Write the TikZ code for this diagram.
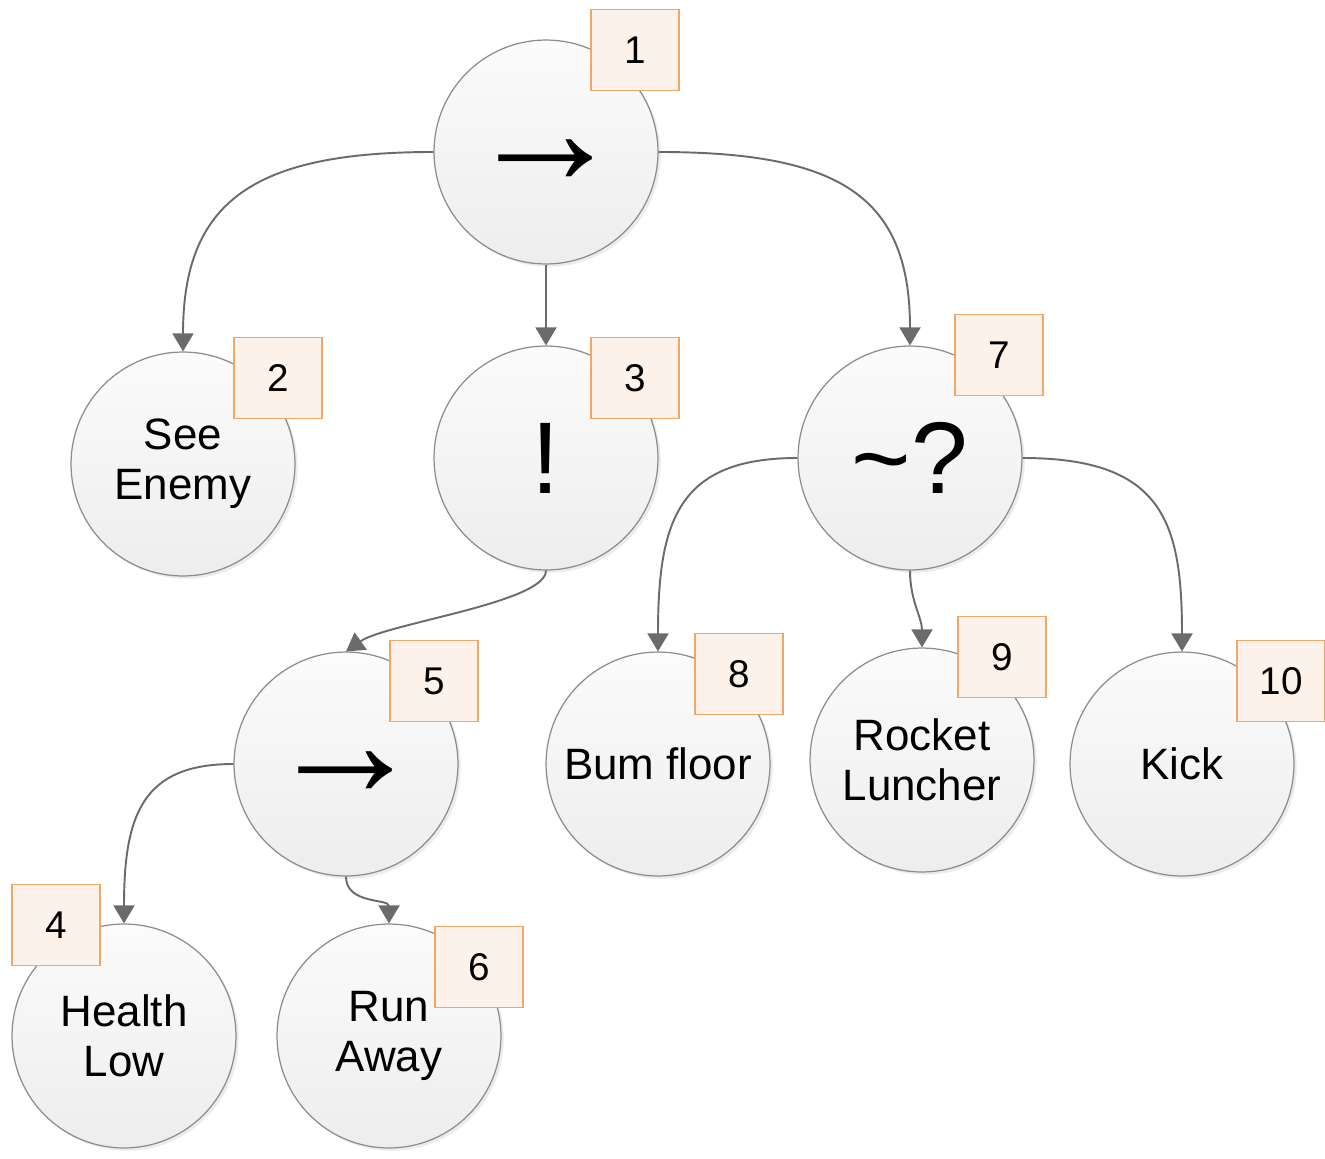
\documentclass[tikz,border=0pt]{standalone}
\usepackage{fontspec}
\setmainfont{Liberation Sans}
\usetikzlibrary{arrows.meta,shadows}
\definecolor{boxborder}{HTML}{F0A868}
\definecolor{boxfill}{HTML}{FDF2EA}
\definecolor{edgecol}{HTML}{6B6B6B}
\definecolor{circborder}{HTML}{8C8C8C}
\newcommand{\seqarrow}{\raisebox{-18.5pt}[0pt][0pt]{→}}
\begin{document}
\begin{tikzpicture}[x=0.02cm,y=-0.02cm,
  bt/.style={circle, draw=circborder, line width=0.7pt, minimum size=4.48cm, inner sep=0pt,
    top color=black!1.5, bottom color=black!7,
    drop shadow={shadow xshift=1.6pt, shadow yshift=-1.6pt, opacity=0.15},
    align=center, font=\fontsize{25}{28.5}\selectfont},
  numbox/.style={rectangle, draw=boxborder, fill=boxfill, line width=1pt,
    minimum width=1.76cm, minimum height=1.62cm, inner sep=0pt,
    font=\fontsize{22}{22}\selectfont},
  edge/.style={draw=edgecol, line width=1.1pt,
    -{Triangle[length=0.36cm, width=0.42cm, fill=edgecol]}},
  big/.style={font=\fontsize{58}{58}\selectfont},
  arr/.style={font=\fontsize{90}{90}\selectfont}
]
\useasboundingbox (0,0) rectangle (1325,1159);

% circles
\node[bt, arr] (n1) at (546,152) {\seqarrow};
\node[bt] (n2) at (183,464) {See\\Enemy};
\node[bt, big] (n3) at (546,458) {!};
\node[bt, big] (n7) at (910,458) {\textasciitilde?};
\node[bt, arr] (n5) at (346,764) {\seqarrow};
\node[bt] (n8) at (658,764) {Bum floor};
\node[bt] (n9) at (922,760) {Rocket\\Luncher};
\node[bt] (n10) at (1182,764) {Kick};
\node[bt] (n4) at (124,1036) {Health\\Low};
\node[bt] (n6) at (389,1036) {Run\\Away};

% connectors
\draw[edge] (n1.west) .. controls +(-180,0) and +(0,-150) .. (n2.north);
\draw[edge] (n1.south) -- (n3.north);
\draw[edge] (n1.east) .. controls +(180,0) and +(0,-150) .. (n7.north);
\draw[edge] (n3.south) .. controls +(0,32) and +(40,-28) .. (n5.north);
\draw[edge] (n5.west) .. controls +(-90,0) and +(0,-110) .. (n4.north);
\draw[edge] (n5.south) .. controls +(0,28) and +(0,-25) .. (n6.north);
\draw[edge] (n7.west) .. controls +(-120,0) and +(0,-130) .. (n8.north);
\draw[edge] (n7.south) .. controls +(0,30) and +(0,-30) .. (n9.north);
\draw[edge] (n7.east) .. controls +(140,0) and +(0,-130) .. (n10.north);

% number boxes
\node[numbox] (b1) at (635,50) {1};
\node[numbox] (b2) at (278,378) {2};
\node[numbox] (b3) at (635,378) {3};
\node[numbox] (b7) at (999,355) {7};
\node[numbox] (b5) at (434,681) {5};
\node[numbox] (b8) at (739,674) {8};
\node[numbox] (b9) at (1002,657) {9};
\node[numbox] (b10) at (1281,681) {10};
\node[numbox] (b4) at (56,925) {4};
\node[numbox] (b6) at (479,967) {6};
\end{tikzpicture}
\end{document}
